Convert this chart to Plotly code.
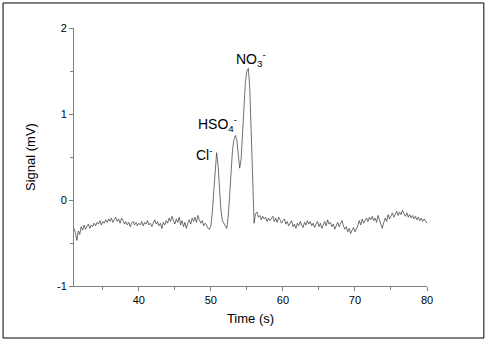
import numpy as np
import plotly.graph_objects as go

# time grid (s), sampled every 0.2 s
time_start, time_end, time_step = 31.0, 80.0, 0.2
time_s = np.round(np.arange(time_start, time_end + 1e-9, time_step), 1)

sig_31_35 = [-0.33, -0.38, -0.47, -0.36, -0.40, -0.31, -0.35, -0.29, -0.34, -0.30, -0.28,
             -0.33, -0.29, -0.31, -0.27, -0.30, -0.26, -0.28, -0.24, -0.29, -0.25]
sig_35_40 = [-0.27, -0.23, -0.26, -0.22, -0.25, -0.21, -0.26, -0.23, -0.20, -0.25, -0.22, -0.27,
             -0.21, -0.24, -0.28, -0.25, -0.29, -0.26, -0.31, -0.27, -0.25, -0.29, -0.26, -0.30, -0.27]
sig_40_45 = [-0.29, -0.25, -0.30, -0.26, -0.28, -0.24, -0.29, -0.27, -0.31, -0.26, -0.23, -0.28,
             -0.25, -0.30, -0.27, -0.33, -0.26, -0.29, -0.24, -0.27, -0.21, -0.25, -0.19, -0.24, -0.28]
sig_45_50 = [-0.22, -0.26, -0.20, -0.29, -0.24, -0.31, -0.26, -0.33, -0.27, -0.23, -0.28, -0.21,
             -0.25, -0.20, -0.26, -0.18, -0.23, -0.27, -0.24, -0.30, -0.27, -0.29, -0.33, -0.34, -0.30]
sig_50_52 = [-0.15, 0.10, 0.38, 0.55, 0.40, 0.10, -0.12, -0.24, -0.28, -0.30]
sig_52_56 = [-0.33, -0.20, 0.05, 0.35, 0.58, 0.70, 0.75, 0.70, 0.48, 0.37,
             0.48, 0.80, 1.12, 1.38, 1.50, 1.53, 1.30, 0.75, 0.10, -0.27]
sig_56_60 = [-0.16, -0.14, -0.20, -0.18, -0.23, -0.19, -0.22, -0.20, -0.25, -0.21,
             -0.24, -0.22, -0.19, -0.25, -0.21, -0.26, -0.20, -0.23, -0.27, -0.24]
sig_60_65 = [-0.22, -0.28, -0.25, -0.30, -0.27, -0.24, -0.31, -0.28, -0.33, -0.27, -0.30, -0.25,
             -0.29, -0.32, -0.26, -0.29, -0.24, -0.28, -0.25, -0.30, -0.27, -0.32, -0.28, -0.25, -0.31]
sig_65_70 = [-0.27, -0.33, -0.29, -0.25, -0.30, -0.23, -0.28, -0.26, -0.31, -0.28, -0.34, -0.29,
             -0.26, -0.31, -0.28, -0.24, -0.30, -0.34, -0.31, -0.37, -0.33, -0.39, -0.35, -0.32, -0.37]
sig_70_75 = [-0.34, -0.30, -0.24, -0.29, -0.22, -0.27, -0.24, -0.21, -0.25, -0.20, -0.23, -0.19,
             -0.24, -0.21, -0.26, -0.18, -0.23, -0.27, -0.33, -0.26, -0.21, -0.25, -0.17, -0.22, -0.19]
sig_75_80 = [-0.15, -0.20, -0.16, -0.13, -0.18, -0.14, -0.17, -0.12, -0.16, -0.19, -0.15, -0.20,
             -0.17, -0.21, -0.18, -0.22, -0.19, -0.23, -0.20, -0.24, -0.21, -0.25, -0.22, -0.24, -0.27]

signal_mv = (sig_31_35 + sig_35_40 + sig_40_45 + sig_45_50 + sig_50_52 + sig_52_56
             + sig_56_60 + sig_60_65 + sig_65_70 + sig_70_75 + sig_75_80)

peak_labels = ["Cl<sup>-</sup>", "HSO<sub>4</sub><sup>-</sup>", "NO<sub>3</sub><sup>-</sup>"]
peak_label_x = [49.1, 50.9, 55.5]
peak_label_y = [0.54, 0.88, 1.64]

x_ticks = [40, 50, 60, 70, 80]
x_tick_text = ["40", "50", "60", "70", "80"]
y_ticks = [-1, 0, 1, 2]
y_tick_text = ["-1", "0", "1", "2"]

FONT = "Liberation Sans, Arial, sans-serif"

fig = go.Figure()
fig.add_trace(go.Scatter(x=time_s, y=signal_mv, mode="lines",
                         line=dict(color="#333333", width=0.7), showlegend=False))

for lab, lx, ly in zip(peak_labels, peak_label_x, peak_label_y):
    fig.add_annotation(x=lx, y=ly, text=lab, showarrow=False,
                       font=dict(family=FONT, size=14, color="black"))

axis_common = dict(showline=True, linecolor="#808080", linewidth=1, ticks="outside",
                   ticklen=4, tickcolor="#808080", showgrid=False, zeroline=False,
                   tickfont=dict(family=FONT, size=11, color="black"))

fig.update_xaxes(range=[31, 80], tickvals=x_ticks, ticktext=x_tick_text,
                 minor=dict(ticks="outside", ticklen=3, tickcolor="#808080", dtick=5, tick0=35),
                 title=dict(text="Time (s)", font=dict(family=FONT, size=13, color="black"),
                            standoff=8),
                 **axis_common)
fig.update_yaxes(range=[-1, 2], tickvals=y_ticks, ticktext=y_tick_text,
                 minor=dict(ticks="outside", ticklen=3, tickcolor="#808080", dtick=0.5, tick0=-0.5),
                 title=dict(text="Signal (mV)", font=dict(family=FONT, size=13, color="black"),
                            standoff=18),
                 **axis_common)

fig.add_shape(type="rect", xref="paper", yref="paper",
              x0=-0.201, x1=1.161, y0=-0.2016, y1=1.097,
              line=dict(color="black", width=1), fillcolor="rgba(0,0,0,0)")

fig.update_layout(width=489, height=342, margin=dict(l=74, r=62, t=28, b=56),
                  plot_bgcolor="white", paper_bgcolor="white")

fig.write_html("out.html", config={"displayModeBar": False},
               post_script="document.body.style.margin='0';")
